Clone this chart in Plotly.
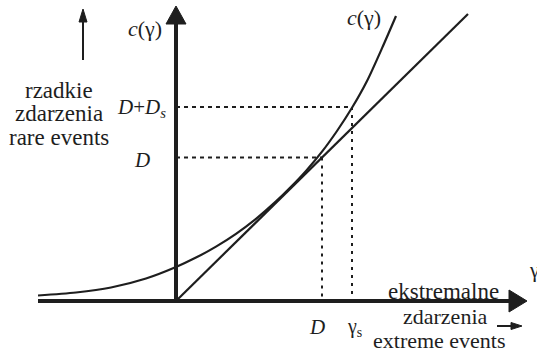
import plotly.graph_objects as go

# Convex cost curve c(gamma), sampled along the drawn shape
gamma = [-1.38, -1.00, -0.65, -0.30, 0.00, 0.20, 0.40, 0.60, 0.80, 1.00,
         1.15, 1.30, 1.46, 1.61, 1.76, 1.91, 2.07, 2.20]
c_gamma = [0.055, 0.085, 0.135, 0.225, 0.34, 0.434, 0.544, 0.672, 0.822, 0.996,
           1.142, 1.301, 1.493, 1.70, 1.932, 2.20, 2.55, 2.85]

# Straight line through the origin
line_gamma = [0.0, 2.92]
line_c = [0.0, 2.87]

# Reference levels
D_x = 1.46        # D on the gamma axis
D_y = 1.435       # D on the c axis
gamma_s = 1.76    # gamma_s on the gamma axis
D_plus_Ds = 1.94  # D + D_s on the c axis

INK = "#1e1e1e"
FONT = "Liberation Serif"

fig = go.Figure()

# dashed guides
fig.add_trace(go.Scatter(x=[0, D_x], y=[D_y, D_y], mode="lines",
                         line=dict(color=INK, width=2, dash="4px,4px")))
fig.add_trace(go.Scatter(x=[D_x, D_x], y=[D_y, 0], mode="lines",
                         line=dict(color=INK, width=2, dash="3px,5px")))
fig.add_trace(go.Scatter(x=[0, gamma_s], y=[D_plus_Ds, D_plus_Ds], mode="lines",
                         line=dict(color=INK, width=2, dash="4px,4px")))
fig.add_trace(go.Scatter(x=[gamma_s, gamma_s], y=[D_plus_Ds, 0], mode="lines",
                         line=dict(color=INK, width=2, dash="3px,5px")))

# curve and straight line
fig.add_trace(go.Scatter(x=gamma, y=c_gamma, mode="lines",
                         line=dict(color=INK, width=2.2, shape="spline", smoothing=0.8)))
fig.add_trace(go.Scatter(x=line_gamma, y=line_c, mode="lines",
                         line=dict(color=INK, width=2.2)))

# axes with filled arrowheads, plus the two small direction arrows
shapes = [
    dict(type="line", x0=0, y0=-0.02, x1=0, y1=2.78, line=dict(color=INK, width=4)),
    dict(type="path", path="M -0.10,2.77 L 0.10,2.77 L 0,2.95 Z",
         fillcolor=INK, line=dict(color=INK, width=1)),
    dict(type="line", x0=-1.38, y0=0, x1=3.35, y1=0, line=dict(color=INK, width=4)),
    dict(type="path", path="M 3.33,-0.11 L 3.33,0.11 L 3.51,0 Z",
         fillcolor=INK, line=dict(color=INK, width=1)),
    # up arrow above "rzadkie zdarzenia"
    dict(type="line", x0=-0.93, y0=2.41, x1=-0.93, y1=2.80, line=dict(color=INK, width=2)),
    dict(type="path", path="M -0.97,2.79 L -0.89,2.79 L -0.93,2.92 Z",
         fillcolor=INK, line=dict(color=INK, width=1)),
    # right arrow beside "extreme events"
    dict(type="line", x0=3.21, y0=-0.25, x1=3.36, y1=-0.25, line=dict(color=INK, width=2)),
    dict(type="path", path="M 3.35,-0.215 L 3.35,-0.285 L 3.46,-0.25 Z",
         fillcolor=INK, line=dict(color=INK, width=1)),
]

def txt(x, y, s, size=21, xanchor="center"):
    return dict(x=x, y=y, text=s, showarrow=False, xanchor=xanchor, yanchor="middle",
                font=dict(family=FONT, size=size, color=INK))

annotations = [
    txt(-0.31, 2.73, "<i>c</i>(γ)", 22),
    txt(1.88, 2.84, "<i>c</i>(γ)", 22),
    txt(-0.35, 1.93, "<i>D</i>+<i>D</i><sub><i>s</i></sub>", 21),
    txt(-0.34, 1.41, "<i>D</i>", 21),
    txt(1.41, -0.26, "<i>D</i>", 21),
    txt(1.78, -0.26, "γ<sub>s</sub>", 20),
    txt(3.51, 0.31, "γ", 21, xanchor="left"),
    txt(-1.17, 2.11, "rzadkie", 23),
    txt(-1.17, 1.875, "zdarzenia", 23),
    txt(-1.17, 1.64, "rare events", 23),
    txt(2.67, 0.10, "ekstremalne", 23),
    txt(2.69, -0.15, "zdarzenia", 22),
    txt(2.63, -0.39, "extreme events", 22),
]

fig.update_layout(
    width=537, height=353,
    margin=dict(l=0, r=0, t=0, b=0),
    paper_bgcolor="white", plot_bgcolor="white",
    showlegend=False,
    font=dict(family=FONT, color=INK),
    xaxis=dict(range=[-1.76, 3.61], visible=False, fixedrange=True),
    yaxis=dict(range=[-0.52, 3.01], visible=False, fixedrange=True),
    shapes=shapes,
    annotations=annotations,
)

fig.write_html("out.html", config={"displayModeBar": False})
